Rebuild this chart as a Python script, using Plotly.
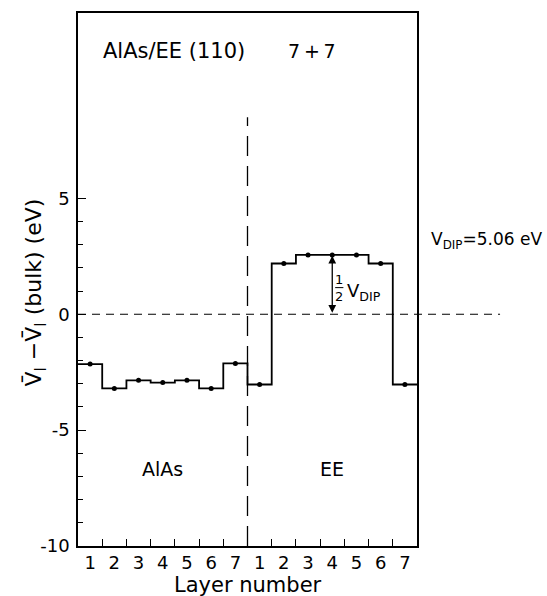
import plotly.graph_objects as go

# ---- data ----
alas_layers = ["1", "2", "3", "4", "5", "6", "7"]
ee_layers = ["1", "2", "3", "4", "5", "6", "7"]
alas_values = [-2.15, -3.20, -2.85, -2.95, -2.85, -3.20, -2.12]
ee_values = [-3.03, 2.19, 2.56, 2.56, 2.56, 2.19, -3.03]
y_ticks = [-10, -5, 0, 5]
y_minor = [-9, -8, -7, -6, -4, -3, -2, -1, 1, 2, 3, 4]
v_dip = 5.06

values = alas_values + ee_values
labels = alas_layers + ee_layers
n = len(values)
x_edges = list(range(n + 1))
y_steps = values + [values[-1]]
x_centers = [i + 0.5 for i in range(n)]

Y_MIN, Y_MAX = -10, 13
X_MIN, X_MAX = 0, n

FONT = "DejaVu Sans"

fig = go.Figure()
fig.add_trace(go.Scatter(x=x_edges, y=y_steps, mode="lines", line_shape="hv",
                         line=dict(color="black", width=1.8), hoverinfo="skip"))
fig.add_trace(go.Scatter(x=x_centers, y=values, mode="markers",
                         marker=dict(color="black", size=5), hoverinfo="skip"))

# vertical dashed interface line
fig.add_shape(type="line", xref="x", yref="y", x0=len(alas_values), x1=len(alas_values),
              y0=Y_MIN, y1=8.5, line=dict(color="black", width=1.3, dash="20px,10px"))
# zero dashed line extending beyond the frame
zero_paper = (0 - Y_MIN) / (Y_MAX - Y_MIN)
fig.add_shape(type="line", xref="paper", yref="paper", x0=0, x1=1.245,
              y0=zero_paper, y1=zero_paper, line=dict(color="black", width=1.2, dash="8px,6px"))

# 1/2 V_DIP arrow
xa = x_centers[len(alas_values) + 3]
half = v_dip / 2
fig.add_annotation(x=xa, y=half, ax=xa, ay=0, xref="x", yref="y", axref="x", ayref="y",
                   text="", showarrow=True, arrowhead=2, arrowside="end+start",
                   arrowsize=1.2, arrowwidth=1.3, arrowcolor="black", standoff=0, startstandoff=0)
fig.add_annotation(x=xa + 0.29, y=1.52, xref="x", yref="y", text="1", showarrow=False,
                   font=dict(family=FONT, size=13, color="black"))
fig.add_annotation(x=xa + 0.29, y=0.78, xref="x", yref="y", text="2", showarrow=False,
                   font=dict(family=FONT, size=13, color="black"))
fig.add_shape(type="line", xref="x", yref="y", x0=xa + 0.12, x1=xa + 0.46, y0=1.15, y1=1.15,
              line=dict(color="black", width=1))
fig.add_annotation(x=xa + 0.52, y=0.98, xref="x", yref="y", text="V<sub>DIP</sub>",
                   showarrow=False, xanchor="left",
                   font=dict(family=FONT, size=18, color="black"))

# titles and labels
fig.add_annotation(x=0.93, y=11.35, xref="x", yref="y", text="AlAs/EE (110)",
                   showarrow=False, xanchor="left",
                   font=dict(family=FONT, size=21, color="black"))
fig.add_annotation(x=8.6, y=11.35, xref="x", yref="y", text="7\u2009+\u20097",
                   showarrow=False, xanchor="left",
                   font=dict(family=FONT, size=19, color="black"))
fig.add_annotation(x=3.5, y=-6.68, xref="x", yref="y", text="AlAs", showarrow=False,
                   font=dict(family=FONT, size=19, color="black"))
fig.add_annotation(x=10.5, y=-6.68, xref="x", yref="y", text="EE", showarrow=False,
                   font=dict(family=FONT, size=19, color="black"))
fig.add_annotation(x=1.034, y=3.2, xref="paper", yref="y", xanchor="left",
                   text=f"V<sub>DIP</sub>={v_dip:.2f} eV", showarrow=False,
                   font=dict(family=FONT, size=17, color="black"))
fig.add_annotation(x=-0.175, y=0.476, xref="paper", yref="paper", textangle=-90,
                   text="V\u0304<sub>l</sub> \u2212V\u0304<sub>l</sub> (bulk) (eV)",
                   showarrow=False, font=dict(family=FONT, size=22, color="black"))
fig.add_annotation(x=0.5, y=-0.0735, xref="paper", yref="paper", yanchor="middle",
                   text="Layer number", showarrow=False,
                   font=dict(family=FONT, size=21, color="black"))

fig.update_xaxes(range=[X_MIN, X_MAX], tickvals=x_centers, ticktext=labels, ticks="",
                 showgrid=False, zeroline=False, showline=True, linecolor="black",
                 linewidth=1.5, mirror=True, ticklabelstandoff=0,
                 tickfont=dict(family=FONT, size=18, color="black"),
                 minor=dict(tickvals=list(range(1, n)), ticks="inside", ticklen=7,
                            tickcolor="black", tickwidth=1.3, showgrid=False))
fig.update_yaxes(range=[Y_MIN, Y_MAX], tickvals=y_ticks, ticktext=[str(v) for v in y_ticks],
                 ticks="inside", ticklen=8, tickcolor="black", tickwidth=1.3,
                 showgrid=False, zeroline=False, showline=True, linecolor="black",
                 linewidth=1.5, mirror=True, ticklabelstandoff=3,
                 tickfont=dict(family=FONT, size=18, color="black"),
                 minor=dict(tickvals=y_minor, ticks="inside", ticklen=5,
                            tickcolor="black", tickwidth=1.2, showgrid=False))

fig.update_layout(width=547, height=596, showlegend=False,
                  margin=dict(l=78, r=130, t=11, b=50),
                  paper_bgcolor="white", plot_bgcolor="white")

fig.write_html("out.html")
